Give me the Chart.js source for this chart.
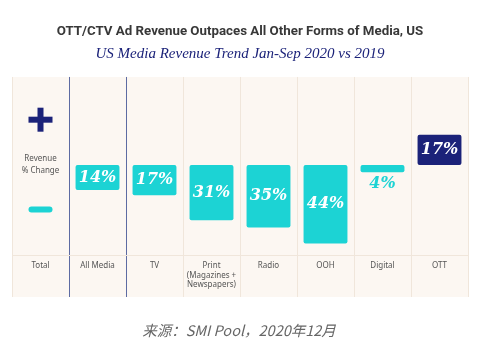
<!DOCTYPE html>
<html>
<head>
<meta charset="utf-8">
<script src="https://cdn.jsdelivr.net/npm/chart.js@4.4.1/dist/chart.umd.min.js"></script>
<style>
  html, body { margin: 0; padding: 0; background: #fff; }
  #wrap { width: 490px; height: 358px; }
</style>
</head>
<body>
<div id="wrap"><canvas id="media-chart" width="490" height="358"></canvas></div>
<script>
// data
const categories = ['Total', 'All Media', 'TV', ['Print', '(Magazines +', 'Newspapers)'], 'Radio', 'OOH', 'Digital', 'OTT'];
const revenueChange = [null, -14, -17, -31, -35, -44, -4, 17];
const yMin = -50.5;
const yMax = 49.5;

const titleText = 'OTT/CTV Ad Revenue Outpaces All Other Forms of Media, US';
const subtitleText = 'US Media Revenue Trend Jan-Sep 2020 vs 2019';
const sourceText = '来源：SMI Pool，2020年12月';

const cyan = '#1cd3d4';
const navy = '#1b2279';
const gridLight = '#f0e6db';
const gridNavy = '#5d6ba2';
const panelBg = '#fcf7f2';
const labelRowHeight = 42;

// cream panel behind the plot and the label row
const panelPlugin = {
    id: 'panel',
    beforeDraw(chart) {
        const a = chart.chartArea;
        const ctx = chart.ctx;
        ctx.save();
        ctx.fillStyle = panelBg;
        ctx.fillRect(a.left, a.top, a.right - a.left, a.bottom - a.top + labelRowHeight);
        ctx.restore();
    }
};

// the "+ Revenue % Change -" key in the Total column
const keyPlugin = {
    id: 'keyColumn',
    afterDraw(chart) {
        const ctx = chart.ctx;
        const x = chart.scales.x.getPixelForValue(0);
        const y = chart.scales.y;
        const yPlus = y.getPixelForValue(25.5);
        const yMinus = y.getPixelForValue(-25);
        const yZero = y.getPixelForValue(0);
        ctx.save();
        ctx.fillStyle = navy;
        ctx.fillRect(x - 12, yPlus - 3, 24, 6);
        ctx.fillRect(x - 3, yPlus - 12, 6, 24);
        ctx.fillStyle = cyan;
        ctx.beginPath();
        ctx.roundRect(x - 12, yMinus - 3, 24, 6, 3);
        ctx.fill();
        ctx.fillStyle = '#555';
        ctx.font = '8px "Noto Sans"';
        ctx.textAlign = 'center';
        ctx.textBaseline = 'middle';
        ctx.fillText('Revenue', x, yZero - 6);
        ctx.fillText('% Change', x, yZero + 6);
        ctx.restore();
    }
};

// percentage labels on the bars
const valueLabels = {
    id: 'valueLabels',
    afterDatasetsDraw(chart) {
        const ctx = chart.ctx;
        const meta = chart.getDatasetMeta(0);
        ctx.save();
        ctx.font = 'italic bold 16px "DejaVu Serif"';
        ctx.textAlign = 'center';
        ctx.textBaseline = 'middle';
        meta.data.forEach((bar, i) => {
            const v = revenueChange[i];
            if (v === null) return;
            const txt = Math.abs(v) + '%';
            if (Math.abs(v) < 8) {
                ctx.fillStyle = cyan;
                ctx.fillText(txt, bar.x, Math.max(bar.y, bar.base) + 12);
            } else {
                ctx.fillStyle = '#fff';
                ctx.fillText(txt, bar.x, (bar.y + bar.base) / 2);
            }
        });
        ctx.restore();
    }
};

// source line at the bottom
const sourcePlugin = {
    id: 'source',
    afterDraw(chart) {
        const ctx = chart.ctx;
        ctx.save();
        ctx.fillStyle = '#666';
        ctx.font = 'italic 14.5px "Noto Sans CJK SC"';
        ctx.textAlign = 'center';
        ctx.textBaseline = 'middle';
        ctx.fillText(sourceText, 239, 330);
        ctx.restore();
    }
};

const ctx = document.getElementById('media-chart').getContext('2d');
new Chart(ctx, {
    type: 'bar',
    data: {
        labels: categories,
        datasets: [{
            data: revenueChange,
            backgroundColor: revenueChange.map(v => v > 0 ? navy : cyan),
            borderRadius: 2,
            borderSkipped: false,
            categoryPercentage: 1,
            barPercentage: 0.77
        }]
    },
    options: {
        responsive: false,
        animation: false,
        layout: { padding: { left: 12, right: 22, top: 0, bottom: 61 } },
        plugins: {
            legend: { display: false },
            tooltip: { enabled: false },
            title: {
                display: true,
                text: titleText,
                color: '#383838',
                font: { family: 'Roboto', size: 13.3, weight: 'bold' },
                padding: { top: 24, bottom: 3 }
            },
            subtitle: {
                display: true,
                text: subtitleText,
                color: navy,
                font: { family: 'Liberation Serif', size: 15, style: 'italic' },
                padding: { top: 2, bottom: 14 }
            }
        },
        scales: {
            x: {
                grid: {
                    offset: true,
                    color: c => (c.index === 1 || c.index === 2) ? gridNavy : gridLight,
                    lineWidth: 1,
                    tickLength: labelRowHeight,
                    tickColor: c => (c.index === 1 || c.index === 2) ? gridNavy : gridLight
                },
                border: { color: gridLight },
                ticks: {
                    color: '#555',
                    font: { family: 'Noto Sans', size: 8 },
                    padding: -36,
                    maxRotation: 0,
                    autoSkip: false
                },
                afterFit: s => { s.height = labelRowHeight; }
            },
            y: {
                min: yMin,
                max: yMax,
                ticks: { display: false, stepSize: 10 },
                border: { display: false },
                grid: {
                    drawTicks: false,
                    color: c => c.tick.value === 0 ? gridLight : 'transparent'
                },
                afterFit: s => { s.width = 0; }
            }
        }
    },
    plugins: [panelPlugin, keyPlugin, valueLabels, sourcePlugin]
});
</script>
</body>
</html>
